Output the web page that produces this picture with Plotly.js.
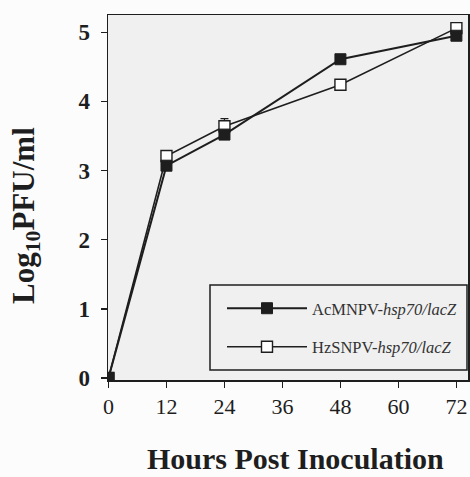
<!DOCTYPE html>
<html>
<head>
<meta charset="utf-8">
<script src="https://cdn.plot.ly/plotly-3.0.1.min.js"></script>
<style>html,body{margin:0;padding:0;background:#fbfbfb;}#chart{width:470px;height:477px;}</style>
</head>
<body>
<div id="chart"></div>
<script>
const hours = [0, 12, 24, 48, 72];
const acmnpv = [0, 3.07, 3.52, 4.61, 4.95];
const acmnpvErr = [0, 0.04, 0.04, 0.04, 0.04];
const hzsnpv = [0, 3.21, 3.64, 4.24, 5.06];
const hzsnpvErr = [0, 0.04, 0.11, 0.04, 0.04];
const xTicks = [0, 12, 24, 36, 48, 60, 72];
const yTicks = [0, 1, 2, 3, 4, 5];
const seriesNames = ['AcMNPV-<i>hsp70/lacZ</i>', 'HzSNPV-<i>hsp70/lacZ</i>'];
const xTitle = 'Hours Post Inoculation';
const yTitle = 'Log<sub>10</sub>PFU/ml';

const serif = '"Liberation Serif", "DejaVu Serif", serif';
const ink = '#1e1e1e';

const traces = [
  {
    x: hours, y: hzsnpv, name: seriesNames[1], legendgroup: 'b', legendrank: 2,
    type: 'scatter', mode: 'lines+markers',
    line: {color: ink, width: 1.6},
    marker: {symbol: 'square', size: 11, color: '#fff', line: {color: ink, width: 1.4}},
    error_y: {type: 'data', array: hzsnpvErr, visible: true, color: ink, thickness: 1.2, width: 4}
  },
  {
    x: hours, y: acmnpv, name: seriesNames[0], legendgroup: 'a', legendrank: 1,
    type: 'scatter', mode: 'lines+markers',
    line: {color: ink, width: 2},
    marker: {symbol: 'square', size: 11, color: ink, line: {color: ink, width: 1}},
    error_y: {type: 'data', array: acmnpvErr, visible: true, color: ink, thickness: 1.2, width: 4}
  }
];

const layout = {
  width: 470, height: 477,
  margin: {l: 108, r: 2, t: 15, b: 97},
  paper_bgcolor: '#fcfcfc',
  plot_bgcolor: '#f0f0f0',
  font: {family: serif, color: ink},
  showlegend: true,
  xaxis: {
    range: [-0.1, 74.4], tickvals: xTicks, ticktext: xTicks.map(String),
    ticks: 'outside', ticklen: 6, tickwidth: 1.5, tickcolor: ink,
    showline: true, linewidth: 1.5, linecolor: ink, mirror: true,
    showgrid: false, zeroline: false, ticklabelstandoff: 0,
    tickfont: {family: serif, size: 22, color: ink}
  },
  yaxis: {
    range: [-0.03, 5.25], tickvals: yTicks, ticktext: yTicks.map(String),
    ticks: 'outside', ticklen: 6, tickwidth: 1.5, tickcolor: ink,
    showline: true, linewidth: 1.5, linecolor: ink, mirror: true,
    showgrid: false, zeroline: false, ticklabelstandoff: 6,
    tickfont: {family: serif, size: 23, color: ink, weight: 'bold'}
  },
  annotations: [
    {text: xTitle, xref: 'paper', yref: 'paper', x: 0.52, y: (380 - 477) / 365, xanchor: 'center', yanchor: 'bottom',
     showarrow: false, font: {family: serif, size: 30, color: ink, weight: 'bold'}},
    {text: yTitle, xref: 'paper', yref: 'paper', x: -0.228, y: 0.452, xanchor: 'center', yanchor: 'middle',
     textangle: -90, showarrow: false, font: {family: serif, size: 31, color: ink, weight: 'bold'}}
  ],
  shapes: [
    {type: 'rect', xref: 'paper', yref: 'paper', x0: (210 - 108) / 360, x1: (467 - 108) / 360,
     y0: (380 - 370) / 365, y1: (380 - 285) / 365, line: {color: ink, width: 1.5}, fillcolor: 'rgba(0,0,0,0)', layer: 'above'}
  ],
  legend: {
    x: (222 - 108) / 360, xanchor: 'left', y: (380 - 291) / 365, yanchor: 'top',
    bgcolor: 'rgba(0,0,0,0)', borderwidth: 0,
    font: {family: serif, size: 16.5, color: '#333'},
    traceorder: 'grouped', tracegroupgap: 14, itemwidth: 80
  }
};

Plotly.newPlot('chart', traces, layout, {displayModeBar: false, staticPlot: true});
</script>
</body>
</html>
